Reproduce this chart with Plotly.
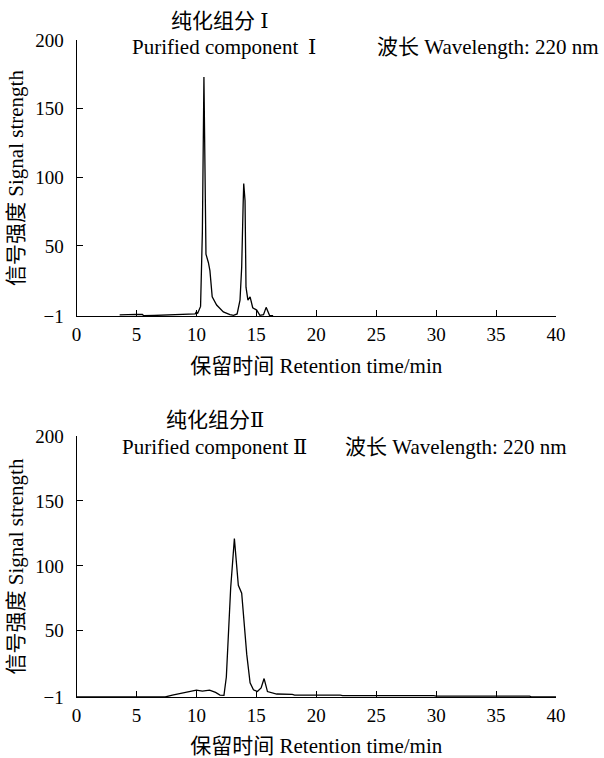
import plotly.graph_objects as go

# Component I chromatogram (retention time min, signal)
t1 = [3.6, 4.0, 4.5, 5.0, 5.5, 5.6, 6.5, 7.5, 8.5, 9.5, 9.9, 10.0, 10.1, 10.35, 10.5, 10.63, 10.7, 10.8, 11.0, 11.13,
      11.32, 11.69, 12.25, 12.8, 13.1, 13.4, 13.64, 13.78, 13.9, 13.95, 14.06, 14.14, 14.3, 14.48, 14.7,
      15.03, 15.3, 15.6, 15.82, 16.1, 16.4]
s1 = [-0.2, 0.0, 0.1, 0.2, 0.1, -0.8, -0.6, -0.4, -0.1, 0.3, 0.5, 2.0, 0.8, 6.0, 60.0, 173.0, 120.0, 44.0, 38.0, 32.0,
      13.0, 7.0, 2.0, 0.0, -0.5, 0.5, 10.6, 34.6, 80.0, 95.4, 83.0, 20.0, 10.6, 13.0, 5.0,
      3.3, -0.5, 0.0, 5.3, -0.5, -0.8]

# Component II chromatogram
t2 = [0.0, 5.0, 7.4, 8.0, 8.6, 9.3, 10.0, 10.5, 11.1, 11.6, 11.97, 12.3, 12.5, 12.86, 13.17, 13.5, 13.78, 14.2,
      14.48, 14.76, 15.09, 15.4, 15.65, 15.93, 16.7, 18.0, 18.2, 22.0, 22.2, 29.8, 30.0, 37.8, 38.0, 40.0]
s2 = [-1.0, -1.0, -1.0, 0.5, 1.8, 3.0, 4.3, 3.6, 4.3, 2.5, 0.5, 0.3, 14.4, 82.7, 121.0, 85.0, 79.0, 32.0,
      9.9, 4.6, 3.2, 6.0, 13.2, 3.2, 1.3, 1.0, 0.5, 0.4, 0.0, 0.0, -0.3, -0.3, -1.0, -1.0]

x_ticks = [0, 5, 10, 15, 20, 25, 30, 35, 40]
y_ticks = [-1, 50, 100, 150, 200]
y_ticktext = ["\u22121", "50", "100", "150", "200"]

W, H = 604, 758
FONT = "Liberation Serif, Times New Roman, Noto Sans CJK SC, serif"
ROMAN = "<span style='font-family:DejaVu Serif'>{}</span>"

def px(x):
    return x / W

def py(y):
    return 1 - y / H

fig = go.Figure()
fig.add_trace(go.Scatter(x=t1, y=s1, mode="lines", line=dict(color="black", width=1.3),
                         xaxis="x", yaxis="y", showlegend=False))
fig.add_trace(go.Scatter(x=t2, y=s2, mode="lines", line=dict(color="black", width=1.3),
                         xaxis="x2", yaxis="y2", showlegend=False))

axis_common = dict(showgrid=False, zeroline=False, showline=True, linecolor="black", linewidth=1,
                   automargin=False, ticks="inside", ticklen=6, tickcolor="black",
                   tickfont=dict(family=FONT, size=19, color="black"))

xdom = [px(76.5), px(556)]
xt = dict(text="保留时间 Retention time/min", font=dict(family=FONT, size=21), standoff=14)
yt = dict(text="信号强度 Signal strength", font=dict(family=FONT, size=21), standoff=5)
fig.update_layout(
    template="none",
    width=W, height=H, margin=dict(l=0, r=0, t=0, b=0, pad=0),
    paper_bgcolor="white", plot_bgcolor="white",
    font=dict(family=FONT, size=20, color="black"),
    xaxis=dict(domain=xdom, range=[0, 40], tickvals=x_ticks, anchor="y", ticklabelstandoff=1,
               title=xt, **axis_common),
    yaxis=dict(domain=[py(316), py(40)], range=[-1, 200], tickvals=y_ticks, ticktext=y_ticktext, anchor="x",
               ticklabelstandoff=8, title=yt, **axis_common),
    xaxis2=dict(domain=xdom, range=[0, 40], tickvals=x_ticks, anchor="y2", ticklabelstandoff=1,
                title=xt, **axis_common),
    yaxis2=dict(domain=[py(697), py(436)], range=[-1, 200], tickvals=y_ticks, ticktext=y_ticktext, anchor="x2",
                ticklabelstandoff=8, title=yt, **axis_common),
)

def ann(text, x, y, anchor="center"):
    fig.add_annotation(text=text, x=px(x), y=py(y), xref="paper", yref="paper",
                       showarrow=False, xanchor=anchor, yanchor="middle",
                       font=dict(family=FONT, size=21, color="black"))

ann("纯化组分 " + ROMAN.format("Ⅰ"), 220, 21)
ann("Purified component", 130, 47, "left")
ann(ROMAN.format("Ⅰ"), 312, 47)
ann("波长 Wavelength: 220 nm", 375, 47, "left")
ann("纯化组分" + ROMAN.format("Ⅱ"), 215, 420)
ann("Purified component", 120, 447, "left")
ann(ROMAN.format("Ⅱ"), 300, 447)
ann("波长 Wavelength: 220 nm", 343, 447, "left")

fig.write_html("out.html", config={"displayModeBar": False},
               post_script="document.body.style.margin='0';")
